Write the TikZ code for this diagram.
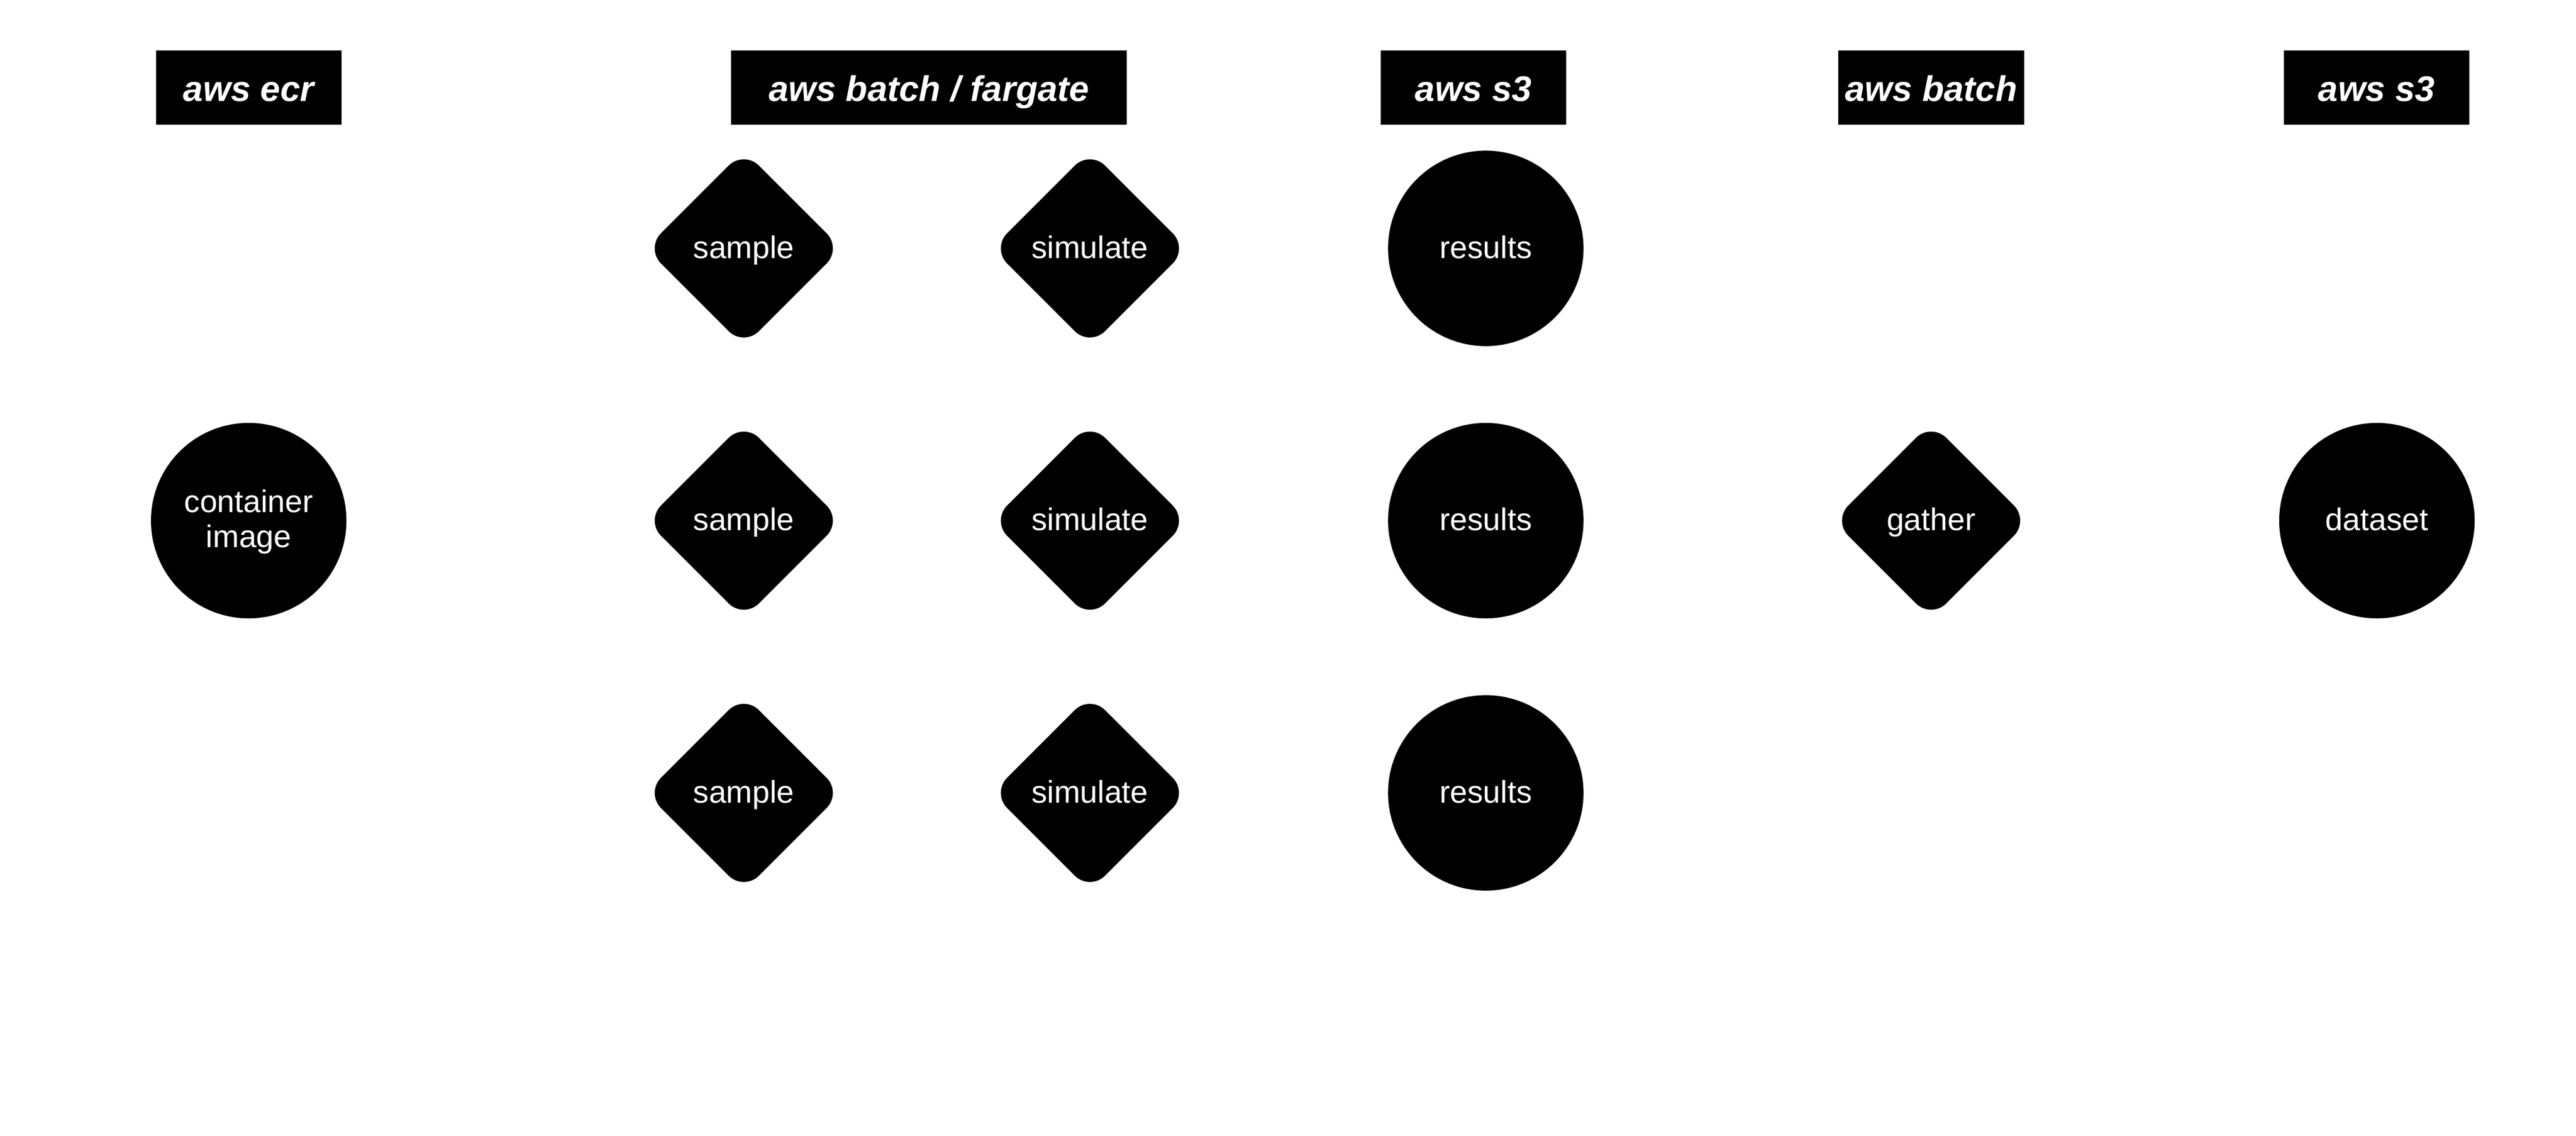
\documentclass[tikz,border=0pt]{standalone}
\usepackage{fontspec}
\setmainfont{Liberation Sans}
\usetikzlibrary{shapes.geometric}
\begin{document}
\begin{tikzpicture}[x=1pt,y=-1pt,
  hdr/.style={rectangle, fill=black, text=white, inner sep=0pt,
    minimum height=45pt, font=\fontsize{21.6}{26}\selectfont\bfseries\itshape,
    text height=16.6pt, text depth=0pt},
  store/.style={circle, fill=black, text=white, inner sep=0pt,
    minimum size=118.6pt, font=\fontsize{19}{21.3}\selectfont,
    text height=12pt, text depth=0pt},
  task/.style={diamond, aspect=1, fill=black, text=white, inner sep=0pt,
    minimum width=119pt, minimum height=119pt, rounded corners=13pt,
    font=\fontsize{19}{21.3}\selectfont, text height=12pt, text depth=0pt}]
\useasboundingbox (0,0) rectangle (1563,689.16);
% headers
\node[hdr, minimum width=112.6pt] (hecr) at (150.9,53.2) {aws ecr};
\node[hdr, minimum width=240.3pt] (hbatchf) at (563.65,53.2) {aws batch / fargate};
\node[hdr, minimum width=112.7pt] (hsthree) at (894.05,53.2) {aws s3};
\node[hdr, minimum width=112.9pt] (hbatch) at (1171.75,53.2) {aws batch};
\node[hdr, minimum width=112.7pt] (hsthreeb) at (1442.05,53.2) {aws s3};
% container image
\node[store, align=center, text height=34.4pt, text depth=2pt] (img) at (150.9,315.9) {container\\image};
% sample / simulate / results rows
\node[task] (sa) at (451.3,150.7) {sample};
\node[task] (sb) at (451.3,315.9) {sample};
\node[task] (sc) at (451.3,481.1) {sample};
\node[task] (ma) at (661.3,150.7) {simulate};
\node[task] (mb) at (661.3,315.9) {simulate};
\node[task] (mc) at (661.3,481.1) {simulate};
\node[store] (ra) at (901.5,150.7) {results};
\node[store] (rb) at (901.5,315.9) {results};
\node[store] (rc) at (901.5,481.1) {results};
% gather and dataset
\node[task] (gather) at (1171.7,315.9) {gather};
\node[store] (data) at (1442.2,315.9) {dataset};
\end{tikzpicture}
\end{document}
